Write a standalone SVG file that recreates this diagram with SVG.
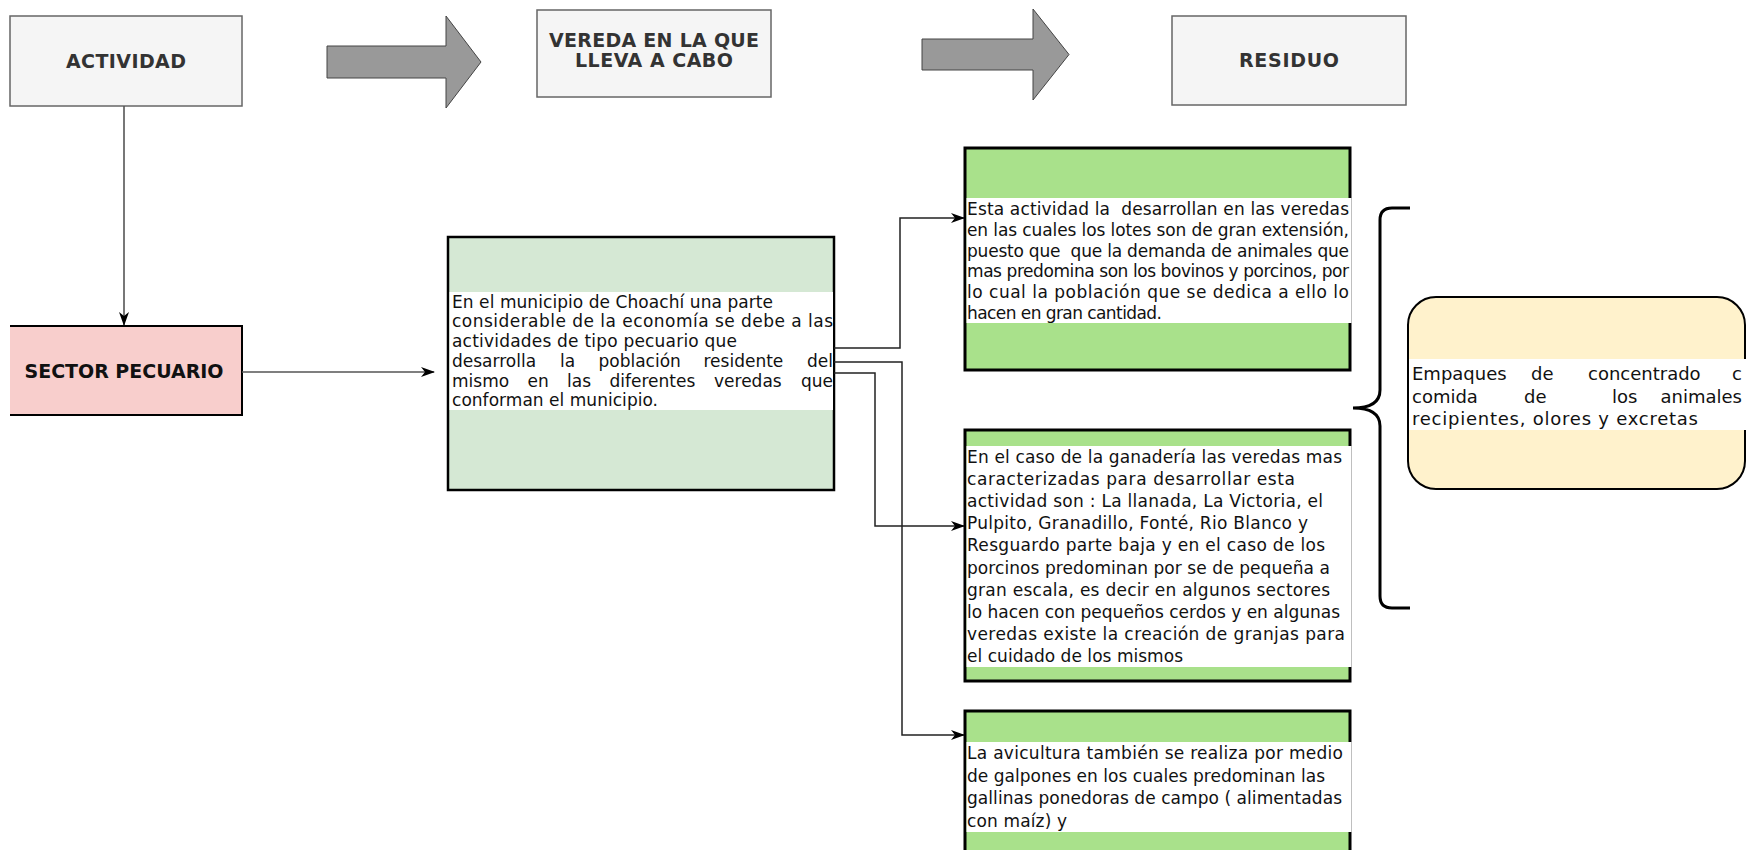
<svg xmlns="http://www.w3.org/2000/svg" width="1747" height="850" viewBox="0 0 1747 850">
<defs>
<marker id="ah" markerWidth="14" markerHeight="10" refX="13" refY="5" orient="auto" markerUnits="userSpaceOnUse">
<path d="M0,0 L14,5 L0,10 L4,5 z" fill="#000"/>
</marker>
<style>
.hdr{fill:#f5f5f5;stroke:#666;stroke-width:1.5}
.ttl{font-family:"DejaVu Sans",sans-serif;font-weight:bold;font-size:19px;fill:#333;text-anchor:middle}
.big{fill:#999;stroke:#444;stroke-width:1}
.grn{fill:#a9e18b;stroke:#000;stroke-width:3}
.band{fill:#fff}
.tx{font-family:"DejaVu Sans",sans-serif;font-size:17px;fill:#111}
.ty{font-family:"DejaVu Sans",sans-serif;font-size:18px;fill:#111}
.con{fill:none;stroke:#222;stroke-width:1.5}
.con2{fill:none;stroke:#555;stroke-width:1.6}
</style>
</defs>
<rect width="1747" height="850" fill="#fff"/>

<g id="node-actividad">
<rect class="hdr" x="10" y="16" width="232" height="90"/>
<text class="ttl" x="126" y="68" textLength="120" lengthAdjust="spacing">ACTIVIDAD</text>
</g>
<g id="arrow-big-1">
<polygon class="big" points="327,46 446,46 446,16 481,62 446,108 446,78 327,78"/>
</g>
<g id="node-vereda">
<rect class="hdr" x="537" y="10" width="234" height="87"/>
<text class="ttl" x="654" y="47" textLength="210" lengthAdjust="spacing">VEREDA EN LA QUE</text>
<text class="ttl" x="654" y="67" textLength="158" lengthAdjust="spacing">LLEVA A CABO</text>
</g>
<g id="arrow-big-2">
<polygon class="big" points="922,39 1033,39 1033,9 1069,54.5 1033,100 1033,70 922,70"/>
</g>
<g id="node-residuo">
<rect class="hdr" x="1172" y="16" width="234" height="89"/>
<text class="ttl" x="1289" y="67" textLength="100" lengthAdjust="spacing">RESIDUO</text>
</g>

<g id="node-sector">
<rect x="10" y="326" width="232" height="89" fill="#f8cecc"/>
<path d="M10,326 H242 V415 H10" fill="none" stroke="#000" stroke-width="2"/>
<text class="ttl" x="124" y="378" style="fill:#111" textLength="199" lengthAdjust="spacing">SECTOR PECUARIO</text>
</g>

<g id="node-middle">
<rect x="448" y="237" width="386" height="253" fill="#d5e8d4" stroke="#000" stroke-width="2.5"/>
<rect class="band" x="449.5" y="292" width="383.5" height="118"/>
<text class="tx" x="452" y="307.7" textLength="321" lengthAdjust="spacing">En el municipio de Choachí una parte</text>
<text class="tx" x="452" y="327.4" textLength="381" lengthAdjust="spacing">considerable de la economía se debe a las</text>
<text class="tx" x="452" y="347.1" textLength="285" lengthAdjust="spacing">actividades de tipo pecuario que</text>
<text class="tx" y="366.8"><tspan x="452">desarrolla</tspan><tspan x="560">la</tspan><tspan x="598.5">población</tspan><tspan x="703.5">residente</tspan></text>
<text class="tx" x="833" y="366.8" text-anchor="end">del</text>
<text class="tx" y="386.5"><tspan x="452">mismo</tspan><tspan x="527.5">en</tspan><tspan x="567">las</tspan><tspan x="609.5">diferentes</tspan><tspan x="714">veredas</tspan></text>
<text class="tx" x="833" y="386.5" text-anchor="end">que</text>
<text class="tx" x="452" y="406.2" textLength="206" lengthAdjust="spacing">conforman el municipio.</text>
</g>

<g id="node-box1">
<rect class="grn" x="965" y="148" width="385" height="222"/>
<rect class="band" x="966.5" y="198" width="385" height="125"/>
<text class="tx" x="967" y="215" textLength="382" lengthAdjust="spacing" xml:space="preserve">Esta actividad la  desarrollan en las veredas</text>
<text class="tx" x="967" y="235.8" textLength="382" lengthAdjust="spacing">en las cuales los lotes son de gran extensión,</text>
<text class="tx" x="967" y="256.6" textLength="382" lengthAdjust="spacing" xml:space="preserve">puesto que  que la demanda de animales que</text>
<text class="tx" x="967" y="277.4" textLength="382" lengthAdjust="spacing">mas predomina son los bovinos y porcinos, por</text>
<text class="tx" x="967" y="298.2" textLength="382" lengthAdjust="spacing">lo cual la población que se dedica a ello lo</text>
<text class="tx" x="967" y="319" textLength="195" lengthAdjust="spacing">hacen en gran cantidad.</text>
</g>

<g id="node-box2">
<rect class="grn" x="965" y="430" width="385" height="251"/>
<rect class="band" x="966.5" y="446" width="385" height="221"/>
<text class="tx" x="967" y="463" textLength="375" lengthAdjust="spacing">En el caso de la ganadería las veredas mas</text>
<text class="tx" x="967" y="485.1" textLength="328" lengthAdjust="spacing">caracterizadas para desarrollar esta</text>
<text class="tx" x="967" y="507.2" textLength="356" lengthAdjust="spacing">actividad son : La llanada, La Victoria, el</text>
<text class="tx" x="967" y="529.3" textLength="341" lengthAdjust="spacing">Pulpito, Granadillo, Fonté, Rio Blanco y</text>
<text class="tx" x="967" y="551.4" textLength="358" lengthAdjust="spacing">Resguardo parte baja y en el caso de los</text>
<text class="tx" x="967" y="573.5" textLength="363" lengthAdjust="spacing">porcinos predominan por se de pequeña a</text>
<text class="tx" x="967" y="595.6" textLength="363" lengthAdjust="spacing">gran escala, es decir en algunos sectores</text>
<text class="tx" x="967" y="617.7" textLength="373" lengthAdjust="spacing">lo hacen con pequeños cerdos y en algunas</text>
<text class="tx" x="967" y="639.8" textLength="378" lengthAdjust="spacing">veredas existe la creación de granjas para</text>
<text class="tx" x="967" y="661.9" textLength="216" lengthAdjust="spacing">el cuidado de los mismos</text>
</g>

<g id="node-box3">
<rect class="grn" x="965" y="711" width="385" height="170"/>
<rect class="band" x="966.5" y="742" width="385" height="90"/>
<text class="tx" x="967" y="759" textLength="376" lengthAdjust="spacing">La avicultura también se realiza por medio</text>
<text class="tx" x="967" y="781.5" textLength="358" lengthAdjust="spacing">de galpones en los cuales predominan las</text>
<text class="tx" x="967" y="804" textLength="375" lengthAdjust="spacing">gallinas ponedoras de campo ( alimentadas</text>
<text class="tx" x="967" y="826.5" textLength="100" lengthAdjust="spacing">con maíz) y</text>
</g>

<g id="brace">
<path d="M1410,208 H1392 Q1380,208 1380,220 V390 Q1380,408 1353,408 Q1380,408 1380,426 V596 Q1380,608 1392,608 H1410" fill="none" stroke="#000" stroke-width="3"/>
</g>

<g id="node-residuo-detalle">
<rect x="1408" y="297" width="337" height="192" rx="28" ry="28" fill="#fff2cc" stroke="#000" stroke-width="2"/>
<rect class="band" x="1409" y="359" width="338" height="71"/>
<text class="ty" y="379.5"><tspan x="1412">Empaques</tspan><tspan x="1531">de</tspan><tspan x="1588">concentrado</tspan><tspan x="1732">c</tspan></text>
<text class="ty" y="402.5"><tspan x="1412">comida</tspan><tspan x="1524">de</tspan><tspan x="1612">los</tspan></text>
<text class="ty" x="1742" y="402.5" text-anchor="end">animales</text>
<text class="ty" x="1412" y="425" textLength="286" lengthAdjust="spacing">recipientes, olores y excretas</text>
</g>

<g id="connectors">
<path class="con2" d="M124,106 V325" marker-end="url(#ah)"/>
<path class="con2" d="M242,372 H434" marker-end="url(#ah)"/>
<path class="con" d="M834,348 H900 V218 H964" marker-end="url(#ah)"/>
<path class="con" d="M834,362 H902 V735 H964" marker-end="url(#ah)"/>
<path class="con" d="M834,373 H875 V526 H964" marker-end="url(#ah)"/>
</g>
</svg>
